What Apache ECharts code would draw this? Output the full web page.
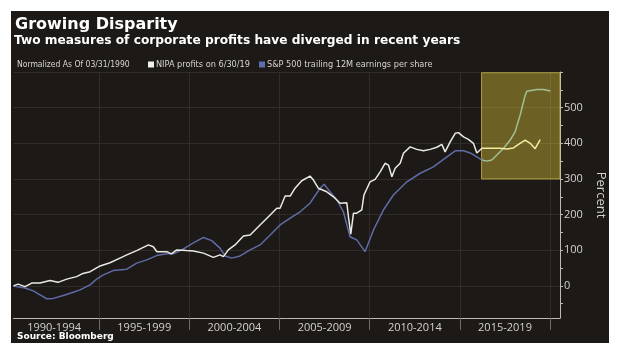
<!DOCTYPE html>
<html>
<head>
<meta charset="utf-8">
<script src="https://cdn.jsdelivr.net/npm/echarts@6/dist/echarts.min.js"></script>
<style>
  html, body { margin: 0; padding: 0; background: #ffffff; }
  #wrap { position: relative; width: 620px; height: 355px; }
  #panel { position: absolute; left: 11px; top: 11px; width: 598px; height: 332px; background: #1c1916; }
  #chart { position: absolute; left: 0; top: 0; width: 620px; height: 355px; }
</style>
</head>
<body>
<div id="wrap"><div id="panel"></div><div id="chart"></div></div>
<script>
// ---- data ----
const nipaYears = [1990.25, 1990.5, 1990.89, 1991.26, 1991.72, 1992.27, 1992.72, 1993.2, 1993.75, 1994.1, 1994.5,
  1995.05, 1995.6, 1996.15, 1996.53, 1997.08, 1997.73, 1998.0, 1998.2, 1998.75, 1999.0, 1999.3, 1999.85,
  2000.22, 2000.78, 2001.33, 2001.7, 2001.89, 2002.16, 2002.53, 2003.0, 2003.37, 2003.92, 2004.48, 2004.85,
  2005.03, 2005.31, 2005.59, 2005.86, 2006.23, 2006.69, 2006.88, 2007.15, 2007.62, 2007.99, 2008.36, 2008.73,
  2008.82, 2008.95, 2009.1, 2009.28, 2009.56, 2009.68, 2010.02, 2010.3, 2010.58, 2010.85, 2011.04, 2011.23,
  2011.41, 2011.69, 2011.87, 2012.24, 2012.61, 2012.98, 2013.35, 2013.72, 2014.0, 2014.18, 2014.46, 2014.74,
  2014.92, 2015.2, 2015.47, 2015.75, 2015.94, 2016.22, 2016.68, 2017.23, 2017.6, 2017.97, 2018.25, 2018.62,
  2018.9, 2019.17, 2019.45];
const nipaValues = [0, 5, -2, 8, 8, 15, 10, 19, 26, 35, 40,
  56, 65, 78, 87, 99, 115, 110, 96, 96, 90, 101, 99,
  98, 92, 80, 87, 82, 101, 115, 140, 143, 171, 199, 218,
  218, 252, 252, 274, 295, 308, 297, 274, 264, 250, 232, 233,
  194, 145, 204, 204, 213, 255, 292, 299, 320, 344, 339, 306,
  330, 344, 372, 390, 383, 379, 383, 389, 397, 376, 404, 428,
  430, 418, 411, 400, 373, 386, 386, 386, 384, 387, 397, 409,
  400, 385, 410];

const spxYears = [1990.25, 1990.89, 1991.35, 1991.72, 1992.09, 1992.46, 1993.01, 1993.48, 1993.94, 1994.49, 1994.86,
  1995.23, 1995.78, 1996.53, 1997.08, 1997.64, 1998.19, 1998.75, 1999.11, 1999.58, 2000.2, 2000.78,
  2001.24, 2001.7, 2001.98, 2002.35, 2002.81, 2003.37, 2003.92, 2004.48, 2005.03, 2005.59, 2006.14,
  2006.69, 2007.25, 2007.47, 2007.8, 2008.18, 2008.54, 2008.91, 2009.28, 2009.74, 2010.21, 2010.76,
  2011.31, 2012.06, 2012.8, 2013.53, 2014.28, 2014.74, 2015.2, 2015.57, 2015.94, 2016.22, 2016.49,
  2016.77, 2017.05, 2017.42, 2017.79, 2018.06, 2018.34, 2018.62, 2018.71, 2019.27, 2019.64, 2020.01];
const spxValues = [0, -6, -14, -25, -36, -35, -27, -19, -11, 3, 19,
  31, 43, 47, 64, 73, 85, 90, 90, 101, 120, 136,
  127, 106, 84, 78, 84, 101, 115, 143, 171, 190, 208,
  232, 274, 285, 264, 241, 208, 138, 129, 96, 157, 213,
  255, 292, 316, 334, 362, 379, 379, 373, 362, 353, 350,
  353, 367, 386, 409, 432, 479, 535, 546, 551, 551, 547];

const yLabelValues = [0, 100, 200, 300, 400, 500];
const yMinorTicks = [-50, 0, 50, 100, 150, 200, 250, 300, 350, 400, 450, 500, 550, 600];
const yGridValues = [0, 100, 200, 300, 400, 500, 600];
const periodBounds = [1995, 2000, 2005, 2010, 2015, 2020];
const periodCenters = [1992.5, 1997.5, 2002.5, 2007.5, 2012.5, 2017.5];
const periodLabels = ['1990-1994', '1995-1999', '2000-2004', '2005-2009', '2010-2014', '2015-2019'];

const highlightYears = [2016.2, 2020.55];
const highlightRange = [300, 598];

const xRange = [1990.25, 2020.55];
const yRange = [-90, 600];

const nipaName = 'NIPA profits on 6/30/19';
const spxName = 'S&P 500 trailing 12M earnings per share';

// ---- chart ----
const chart = echarts.init(document.getElementById('chart'), null, { renderer: 'canvas' });
const zip = (xs, ys) => xs.map((x, i) => [x, ys[i]]);
const axisGray = '#bdbab5';
const labelGray = '#d4d2cd';
const gridGray = '#2f2c29';

chart.setOption({
  backgroundColor: 'transparent',
  animation: false,
  title: [
    { text: 'Growing Disparity', left: 10, top: 12,
      textStyle: { color: '#ffffff', fontFamily: 'DejaVu Sans', fontWeight: 'bold', fontSize: 16 } },
    { text: 'Two measures of corporate profits have diverged in recent years', left: 9, top: 30,
      textStyle: { color: '#ffffff', fontFamily: 'DejaVu Sans', fontWeight: 'bold', fontSize: 12.2 } },
    { text: 'Normalized As Of 03/31/1990', left: 12, top: 55,
      textStyle: { color: '#d8d6d0', fontFamily: 'DejaVu Sans Condensed', fontWeight: 'normal', fontSize: 8.5 } },
    { text: 'Source: Bloomberg', left: 12, top: 327,
      textStyle: { color: '#ffffff', fontFamily: 'DejaVu Sans', fontWeight: 'bold', fontSize: 9 } }
  ],
  legend: {
    left: 143, top: 55,
    icon: 'rect', itemWidth: 6, itemHeight: 6, itemGap: 9,
    textStyle: { color: '#d8d6d0', fontFamily: 'DejaVu Sans Condensed', fontSize: 9.1, padding: [0, 0, 0, -3] },
    data: [
      { name: nipaName, itemStyle: { color: '#f2f0ea' } },
      { name: spxName, itemStyle: { color: '#5f6eb0' } }
    ]
  },
  grid: { left: 13.5, right: 60, top: 72, bottom: 37 },
  xAxis: {
    type: 'value', min: xRange[0], max: xRange[1],
    axisLine: { show: true, onZero: false, lineStyle: { color: axisGray, width: 1 } },
    axisTick: { show: true, customValues: periodBounds, length: 12, lineStyle: { color: '#6f6c68' } },
    axisLabel: {
      customValues: periodCenters, color: labelGray, fontFamily: 'Open Sans', fontSize: 11, margin: 4,
      formatter: v => periodLabels[periodCenters.indexOf(v)]
    },
    splitLine: { show: true, lineStyle: { color: gridGray, width: 1 } }
  },
  yAxis: [
    {
      type: 'value', position: 'right', min: yRange[0], max: yRange[1],
      axisLine: { show: true, lineStyle: { color: axisGray } },
      axisTick: { show: true, customValues: yMinorTicks, length: 3, lineStyle: { color: axisGray } },
      axisLabel: { customValues: yLabelValues, color: labelGray, fontFamily: 'Open Sans', fontSize: 11, margin: 4 },
      splitLine: { show: false },
      name: 'Percent', nameLocation: 'middle', nameRotate: -90, nameGap: 27,
      nameTextStyle: { color: labelGray, fontFamily: 'Open Sans', fontSize: 13 }
    },
    {
      type: 'value', position: 'right', min: yRange[0], max: yRange[1],
      axisLine: { show: false },
      axisTick: { show: false, customValues: yGridValues },
      axisLabel: { show: false },
      splitLine: { show: true, lineStyle: { color: gridGray, width: 1 } }
    }
  ],
  visualMap: [
    { type: 'piecewise', show: false, seriesIndex: 0, dimension: 0,
      pieces: [{ gte: 1985, lt: highlightYears[0], color: '#ebe9e3' }, { gte: highlightYears[0], lte: 2025, color: '#f1ec9e' }] },
    { type: 'piecewise', show: false, seriesIndex: 1, dimension: 0,
      pieces: [{ gte: 1985, lt: highlightYears[0], color: '#5f6ba6' }, { gte: highlightYears[0], lte: 2025, color: '#a2c293' }] }
  ],
  series: [
    {
      name: nipaName, type: 'line', yAxisIndex: 0, showSymbol: false, z: 4,
      data: zip(nipaYears, nipaValues),
      lineStyle: { width: 1.5 },
      itemStyle: { color: '#f2f0ea' }
    },
    {
      name: spxName, type: 'line', yAxisIndex: 0, showSymbol: false, z: 3,
      data: zip(spxYears, spxValues),
      lineStyle: { width: 1.5 },
      itemStyle: { color: '#5f6eb0' },
      markArea: {
        silent: true,
        itemStyle: { color: 'rgba(238,212,64,0.38)', borderColor: 'rgba(220,200,80,0.7)', borderWidth: 1 },
        data: [[{ xAxis: highlightYears[0], yAxis: highlightRange[0] }, { xAxis: highlightYears[1], yAxis: highlightRange[1] }]]
      }
    }
  ]
});
</script>
</body>
</html>
